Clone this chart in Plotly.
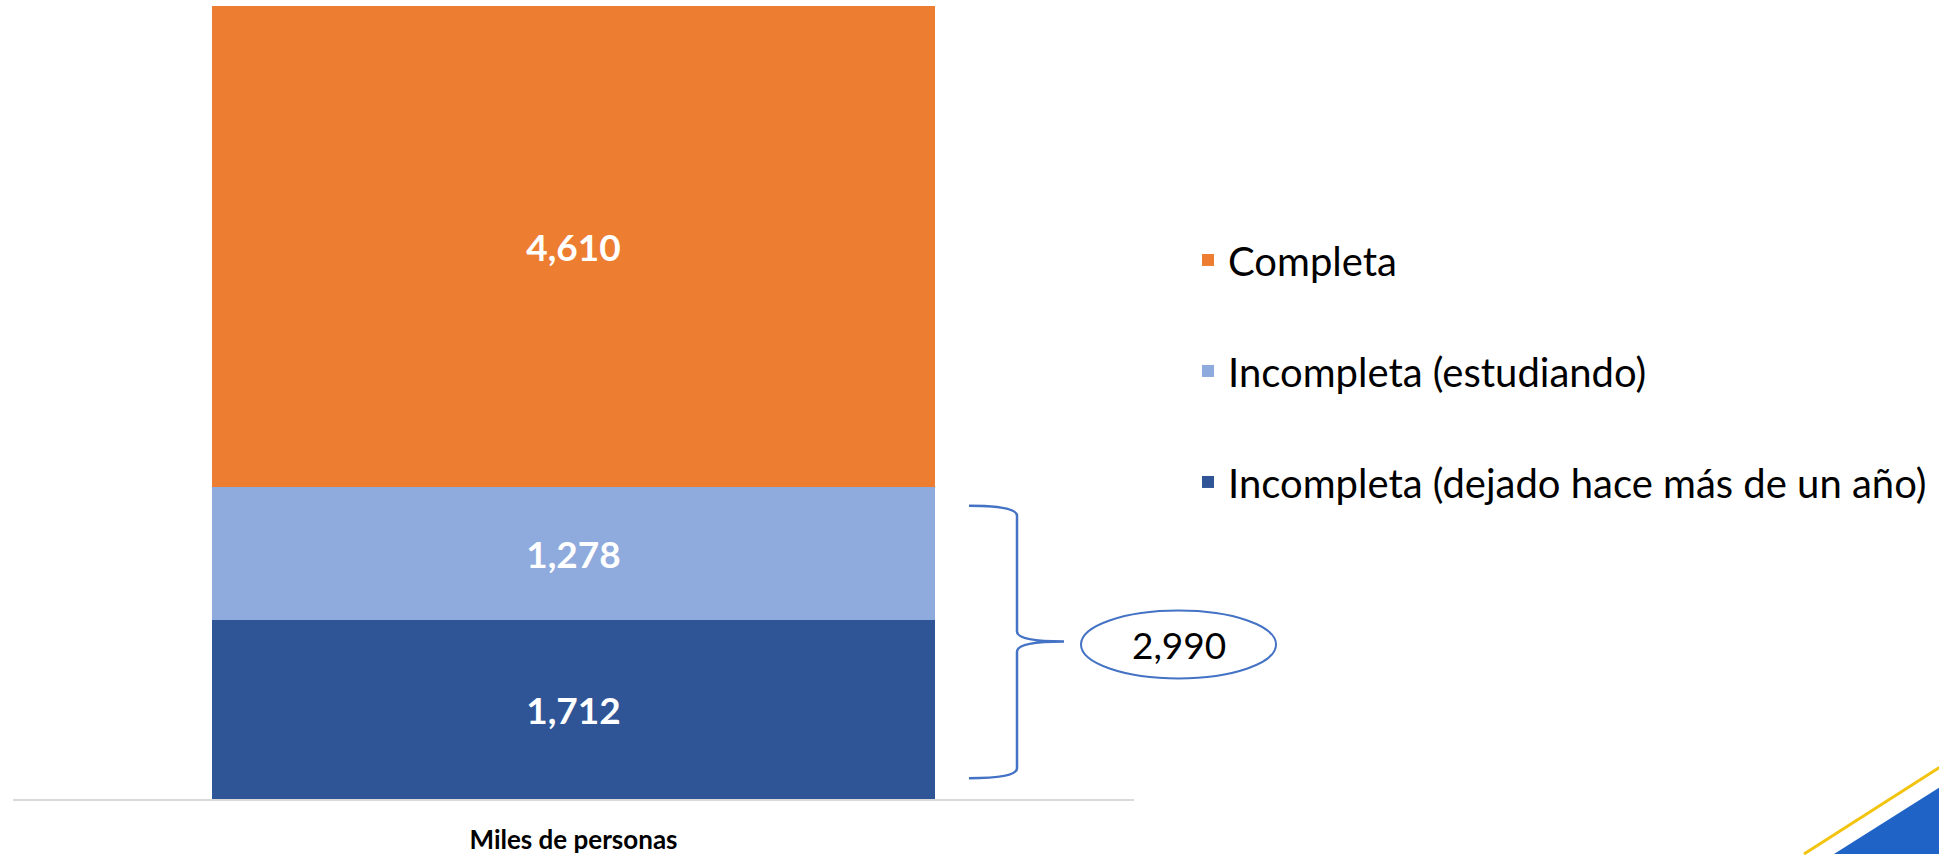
import plotly.graph_objects as go

# ---- data ----
categories = ["Miles de personas"]
series_names = ["Incompleta (dejado hace más de un año)", "Incompleta (estudiando)", "Completa"]
legend_ranks = [3, 2, 1]
dejado = [1712]
estudiando = [1278]
completa = [4610]
colors = ["#2F5597", "#8FAADC", "#ED7D31"]

W, H = 1939, 855
FONT = "Lato"

def px(x):
    return x / W

def py(y):
    return 1 - y / H

fig = go.Figure()
for name, vals, col, rk in zip(series_names, [dejado, estudiando, completa], colors, legend_ranks):
    fig.add_trace(go.Bar(
        x=categories, y=vals, name=name, legendgroup=name, legendrank=rk,
        marker=dict(color=col, line=dict(width=0)),
        texttemplate="%{y:,}", textposition="inside", insidetextanchor="middle",
        textangle=0,
        textfont=dict(family=FONT, size=37, color="white", weight="bold"),
        hoverinfo="skip",
    ))

incomplete_total = dejado[0] + estudiando[0]

def P(x, y):
    return f"{px(x):.5f},{py(y):.5f}"

brace = (
    f"M {P(969,507)} Q {P(1017,507)} {P(1017,517)} L {P(1017,633)} "
    f"Q {P(1017,643)} {P(1064,643)} Q {P(1017,643)} {P(1017,653)} "
    f"L {P(1017,770)} Q {P(1017,780)} {P(969,780)}"
)
shapes = [
    dict(type="path", xref="paper", yref="paper", path=brace,
         line=dict(color="#4472C4", width=2.5)),
    dict(type="circle", xref="paper", yref="paper",
         x0=px(1081), x1=px(1276), y0=py(680), y1=py(612),
         line=dict(color="#4472C4", width=2)),
    # bottom-right decoration
    dict(type="path", xref="paper", yref="paper",
         path=f"M {P(1834,856)} L {P(1940,789)} L {P(1940,856)} Z",
         fillcolor="#1F63C6", line=dict(width=0)),
    dict(type="line", xref="paper", yref="paper",
         x0=px(1804), y0=py(856), x1=px(1940), y1=py(769),
         line=dict(color="#F2C40F", width=3)),
]

annotations = [
    dict(xref="paper", yref="paper", x=px(1178.5), y=py(646),
         text=f"{incomplete_total:,}", showarrow=False,
         font=dict(family=FONT, size=37, color="black"),
         xanchor="center", yanchor="middle"),
]

fig.update_layout(
    width=W, height=H,
    margin=dict(l=0, r=0, t=0, b=0),
    barmode="stack",
    bargap=0.355,
    plot_bgcolor="white", paper_bgcolor="white",
    font=dict(family=FONT),
    shapes=shapes,
    annotations=annotations,
    legend=dict(
        x=px(1188), y=py(228), xanchor="left", yanchor="top",
        traceorder="grouped", tracegroupgap=56,
        font=dict(family=FONT, size=40, color="black"),
        bgcolor="rgba(0,0,0,0)",
    ),
    showlegend=True,
    xaxis=dict(
        domain=[px(13), px(1134)],
        showline=True, linecolor="#D9D9D9", linewidth=2,
        showgrid=False, zeroline=False, ticks="",
        tickfont=dict(family=FONT, size=26, color="black", weight="bold"),
        ticklabelstandoff=17,
    ),
    yaxis=dict(
        domain=[py(801), py(6)],
        range=[0, 7600],
        showticklabels=False, showgrid=False, zeroline=False, showline=False,
    ),
)

fig.write_html("out.html", config={"displayModeBar": False},
               post_script="document.body.style.margin='0';")
